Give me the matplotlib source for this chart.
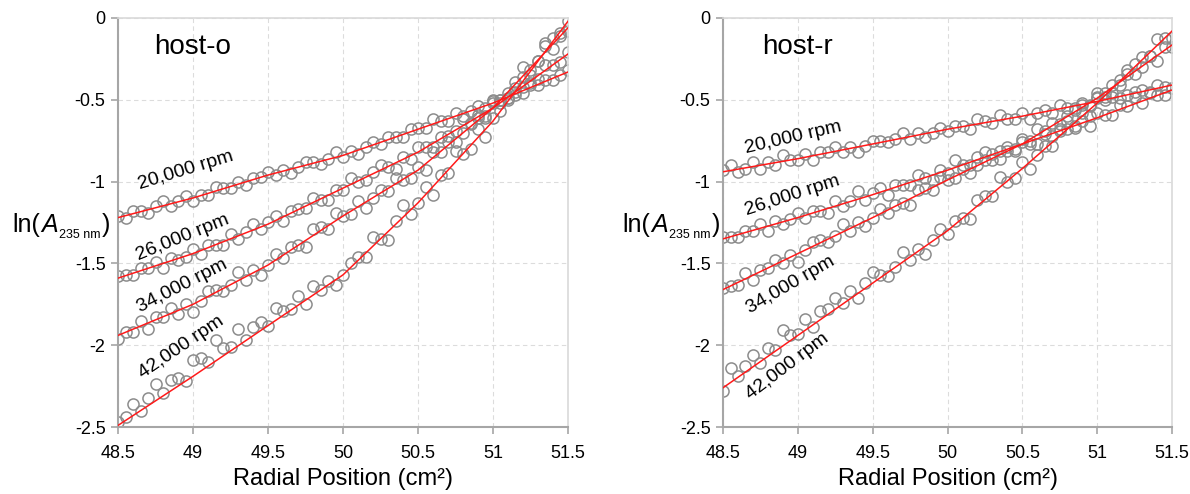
import numpy as np
import matplotlib
matplotlib.use("Agg")
import matplotlib.pyplot as plt
from matplotlib.ticker import FuncFormatter

plt.rcParams['font.family'] = ['Liberation Sans', 'DejaVu Sans']
plt.rcParams['axes.unicode_minus'] = False

# radial positions (cm^2), shared by all scans
radius_sq = [48.50, 48.55, 48.60, 48.65, 48.70, 48.75, 48.80, 48.85, 48.90, 48.95,
             49.00, 49.05, 49.10, 49.15, 49.20, 49.25, 49.30, 49.35, 49.40, 49.45,
             49.50, 49.55, 49.60, 49.65, 49.70, 49.75, 49.80, 49.85, 49.90, 49.95,
             50.00, 50.05, 50.10, 50.15, 50.20, 50.25, 50.30, 50.35, 50.40, 50.45,
             50.50, 50.55, 50.60, 50.65, 50.70, 50.75, 50.80, 50.85, 50.90, 50.95,
             51.00, 51.05, 51.10, 51.15, 51.20, 51.25, 51.30, 51.35, 51.40, 51.45,
             51.50]

speeds = ['20,000 rpm', '26,000 rpm', '34,000 rpm', '42,000 rpm']

# host-o measured ln(A)
host_o_20k = [-1.21, -1.22, -1.18, -1.18, -1.19, -1.15, -1.12, -1.15, -1.12, -1.09,
              -1.12, -1.08, -1.08, -1.03, -1.04, -1.04, -1.00, -1.02, -0.98, -0.97,
              -0.94, -0.96, -0.93, -0.95, -0.91, -0.88, -0.88, -0.89, -0.86, -0.82,
              -0.85, -0.81, -0.83, -0.79, -0.76, -0.77, -0.73, -0.73, -0.73, -0.68,
              -0.67, -0.67, -0.62, -0.63, -0.63, -0.58, -0.60, -0.57, -0.54, -0.55,
              -0.50, -0.50, -0.49, -0.45, -0.46, -0.41, -0.41, -0.38, -0.38, -0.35,
              -0.32]
host_o_26k = [-1.58, -1.57, -1.57, -1.53, -1.53, -1.49, -1.53, -1.47, -1.48, -1.46,
              -1.41, -1.44, -1.39, -1.39, -1.39, -1.32, -1.35, -1.31, -1.26, -1.29,
              -1.25, -1.21, -1.24, -1.18, -1.17, -1.16, -1.10, -1.11, -1.11, -1.05,
              -1.05, -0.98, -1.00, -0.99, -0.94, -0.90, -0.91, -0.92, -0.85, -0.86,
              -0.79, -0.79, -0.79, -0.73, -0.72, -0.69, -0.62, -0.64, -0.59, -0.60,
              -0.52, -0.52, -0.50, -0.43, -0.42, -0.35, -0.37, -0.29, -0.29, -0.27,
              -0.21]
host_o_34k = [-1.96, -1.92, -1.92, -1.85, -1.90, -1.83, -1.83, -1.77, -1.81, -1.75,
              -1.80, -1.73, -1.67, -1.66, -1.67, -1.63, -1.55, -1.60, -1.54, -1.57,
              -1.51, -1.44, -1.47, -1.40, -1.39, -1.40, -1.29, -1.28, -1.29, -1.19,
              -1.21, -1.20, -1.12, -1.16, -1.10, -1.05, -1.06, -0.98, -0.99, -0.98,
              -0.91, -0.93, -0.82, -0.82, -0.76, -0.76, -0.70, -0.65, -0.61, -0.61,
              -0.51, -0.50, -0.49, -0.39, -0.30, -0.32, -0.26, -0.17, -0.19, -0.09,
              -0.08]
host_o_42k = [-2.47, -2.44, -2.36, -2.40, -2.32, -2.24, -2.29, -2.21, -2.20, -2.22,
              -2.09, -2.08, -2.10, -1.97, -2.02, -2.01, -1.90, -1.97, -1.89, -1.86,
              -1.88, -1.77, -1.79, -1.78, -1.70, -1.75, -1.64, -1.66, -1.61, -1.63,
              -1.57, -1.50, -1.46, -1.46, -1.34, -1.35, -1.36, -1.24, -1.14, -1.20,
              -1.13, -1.03, -1.08, -0.96, -0.95, -0.81, -0.83, -0.80, -0.68, -0.73,
              -0.61, -0.57, -0.46, -0.47, -0.36, -0.40, -0.26, -0.15, -0.12, -0.11,
              -0.02]

# host-r measured ln(A)
host_r_20k = [-0.93, -0.90, -0.94, -0.92, -0.88, -0.92, -0.88, -0.90, -0.84, -0.87,
              -0.87, -0.83, -0.87, -0.82, -0.82, -0.79, -0.82, -0.79, -0.82, -0.78,
              -0.75, -0.75, -0.76, -0.74, -0.70, -0.74, -0.70, -0.73, -0.70, -0.67,
              -0.69, -0.66, -0.66, -0.68, -0.62, -0.63, -0.64, -0.59, -0.62, -0.62,
              -0.58, -0.62, -0.58, -0.56, -0.58, -0.53, -0.55, -0.55, -0.52, -0.54,
              -0.49, -0.50, -0.48, -0.49, -0.47, -0.45, -0.44, -0.45, -0.41, -0.42,
              -0.43]
host_r_26k = [-1.34, -1.34, -1.34, -1.30, -1.30, -1.26, -1.30, -1.24, -1.26, -1.23,
              -1.19, -1.22, -1.18, -1.18, -1.19, -1.12, -1.15, -1.12, -1.06, -1.11,
              -1.07, -1.04, -1.08, -1.02, -1.02, -1.02, -0.96, -0.98, -0.99, -0.93,
              -0.95, -0.87, -0.90, -0.90, -0.85, -0.82, -0.83, -0.86, -0.79, -0.80,
              -0.74, -0.75, -0.77, -0.71, -0.72, -0.69, -0.63, -0.67, -0.63, -0.66,
              -0.58, -0.59, -0.59, -0.53, -0.54, -0.48, -0.52, -0.46, -0.47, -0.47,
              -0.43]
host_r_34k = [-1.65, -1.64, -1.63, -1.56, -1.60, -1.54, -1.53, -1.48, -1.50, -1.45,
              -1.49, -1.42, -1.37, -1.36, -1.37, -1.33, -1.26, -1.30, -1.25, -1.27,
              -1.22, -1.17, -1.19, -1.14, -1.13, -1.14, -1.05, -1.04, -1.05, -0.97,
              -0.99, -0.98, -0.92, -0.95, -0.90, -0.87, -0.87, -0.81, -0.81, -0.81,
              -0.76, -0.77, -0.68, -0.69, -0.64, -0.65, -0.60, -0.56, -0.53, -0.53,
              -0.46, -0.46, -0.46, -0.38, -0.32, -0.34, -0.30, -0.23, -0.26, -0.18,
              -0.18]
host_r_42k = [-2.28, -2.14, -2.19, -2.13, -2.06, -2.11, -2.02, -2.03, -1.91, -1.94,
              -1.93, -1.84, -1.89, -1.79, -1.78, -1.71, -1.74, -1.67, -1.71, -1.62,
              -1.55, -1.57, -1.58, -1.52, -1.43, -1.48, -1.41, -1.44, -1.36, -1.29,
              -1.32, -1.24, -1.22, -1.23, -1.11, -1.09, -1.09, -0.97, -1.00, -0.98,
              -0.88, -0.92, -0.84, -0.78, -0.78, -0.68, -0.68, -0.66, -0.58, -0.60,
              -0.48, -0.48, -0.41, -0.41, -0.34, -0.28, -0.24, -0.23, -0.13, -0.12,
              -0.12]

# fitted curves, sampled every 0.5 cm^2
fit_x = [48.5, 49.0, 49.5, 50.0, 50.5, 51.0, 51.5]
host_o_fits = [
    [-1.22, -1.10, -0.96, -0.84, -0.68, -0.52, -0.33],
    [-1.59, -1.44, -1.26, -1.04, -0.82, -0.55, -0.22],
    [-1.94, -1.75, -1.51, -1.21, -0.93, -0.55, -0.06],
    [-2.49, -2.19, -1.88, -1.57, -1.13, -0.63, -0.02],
]
host_r_fits = [
    [-0.94, -0.86, -0.77, -0.68, -0.60, -0.51, -0.41],
    [-1.35, -1.22, -1.08, -0.93, -0.77, -0.61, -0.44],
    [-1.66, -1.44, -1.22, -0.99, -0.77, -0.49, -0.165],
    [-2.26, -1.94, -1.62, -1.30, -0.92, -0.52, -0.08],
]

# label anchor (x, y, angle) for each speed
host_o_labels = [(48.95, -0.93, 17), (48.93, -1.34, 22), (48.93, -1.64, 27), (48.92, -2.01, 34)]
host_r_labels = [(48.97, -0.73, 13), (48.96, -1.085, 18), (48.95, -1.63, 30), (48.93, -2.13, 37)]

panels = [
    ('host-o', [host_o_20k, host_o_26k, host_o_34k, host_o_42k], host_o_fits, host_o_labels),
    ('host-r', [host_r_20k, host_r_26k, host_r_34k, host_r_42k], host_r_fits, host_r_labels),
]

W, H = 1190, 494
fig = plt.figure(figsize=(W / 100, H / 100), dpi=100)
positions = [[0.0992, 0.1356, 0.3781, 0.828], [0.6076, 0.1356, 0.3773, 0.828]]
ylabel_left = [12, 622]


def ylabel_pieces(x0):
    # ln(A_235 nm) built from pieces so the subscript can be small
    base = 1 - 232 / H
    fig.text(x0 / W, base, 'ln(', fontsize=18, va='baseline')
    fig.text((x0 + 29) / W, base, 'A', fontsize=18, style='italic', va='baseline')
    fig.text((x0 + 47) / W, 1 - 238 / H, '235 nm', fontsize=9, va='baseline')
    fig.text((x0 + 90) / W, base, ')', fontsize=18, va='baseline')


for pos, x0, (name, series, fits, labels) in zip(positions, ylabel_left, panels):
    ax = fig.add_axes(pos)
    for ys, fy in zip(series, fits):
        ax.plot(radius_sq, ys, 'o', ms=8, mfc='none', mec='#8c8c8c', mew=1.1, zorder=2)
        ax.plot(fit_x, fy, '-', color='#ff1a1a', lw=1.1, zorder=3)
    for text, (lx, ly, ang) in zip(speeds, labels):
        ax.text(lx, ly, text, fontsize=14, rotation=ang, rotation_mode='anchor',
                ha='center', va='center', zorder=4)
    ax.text(49.0, -0.18, name, fontsize=20, ha='center', va='center')
    ax.set_xlim(48.5, 51.5)
    ax.set_ylim(-2.5, 0)
    ax.set_xticks([48.5, 49, 49.5, 50, 50.5, 51, 51.5])
    ax.set_yticks([-2.5, -2, -1.5, -1, -0.5, 0])
    ax.xaxis.set_major_formatter(FuncFormatter(lambda v, p: '%g' % v))
    ax.yaxis.set_major_formatter(FuncFormatter(lambda v, p: '%g' % v))
    ax.grid(True, ls=(0, (4, 3)), color='#dcdcdc', lw=0.8)
    ax.set_axisbelow(True)
    for side in ['top', 'right']:
        ax.spines[side].set_color('#d9d9d9')
        ax.spines[side].set_linewidth(1.2)
    for side in ['left', 'bottom']:
        ax.spines[side].set_color('#a6a6a6')
        ax.spines[side].set_linewidth(1.5)
    ax.tick_params(axis='both', labelsize=13, color='#a6a6a6', length=5, width=1.2)
    ax.tick_params(axis='y', pad=4)
    ax.tick_params(axis='x', pad=8)
    ax.set_xlabel('Radial Position (cm²)', fontsize=17, labelpad=4)
    ylabel_pieces(x0)

fig.savefig('out.png', dpi=100)
